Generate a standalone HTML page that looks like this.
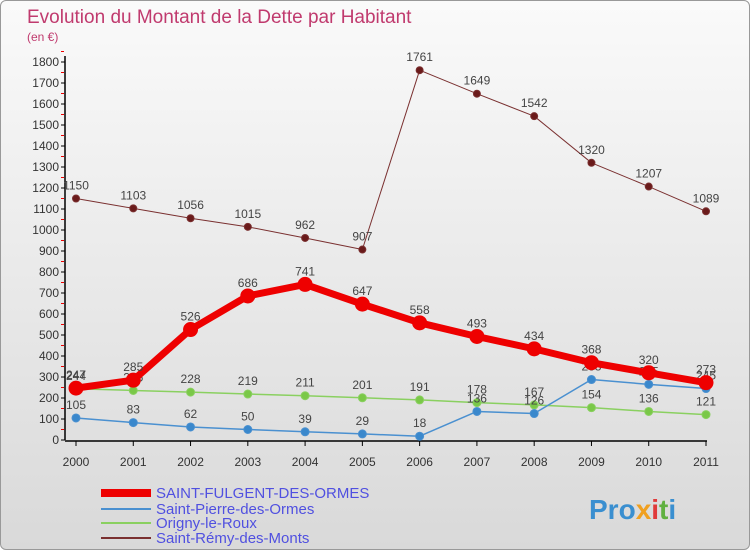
<!DOCTYPE html>
<html><head><meta charset="utf-8"><style>
body{margin:0;width:750px;height:550px;overflow:hidden;font-family:"Liberation Sans",sans-serif}
#wrap{position:absolute;left:0;top:0;width:748px;height:548px;border:1px solid #999;border-radius:6px;background:linear-gradient(#fafafa,#d9d9d9)}
</style></head><body>
<div id="wrap">
<svg id="chart" width="750" height="550" style="position:absolute;left:0;top:0">
<text x="26" y="22" font-size="19" fill="#c03a6e">Evolution du Montant de la Dette par Habitant</text>
<text x="26" y="40" font-size="12" fill="#c03a6e">(en €)</text>
<g id="axes"></g><g id="series"></g>
<text x="588" y="518" font-size="28" font-weight="bold" fill="#3a8fd0">Pro<tspan fill="#f0a020">x</tspan><tspan fill="#e03a3a">i</tspan><tspan fill="#60b040">t</tspan><tspan fill="#3a8fd0">i</tspan></text>
</svg>
</div>
<script>
const years=[2000,2001,2002,2003,2004,2005,2006,2007,2008,2009,2010,2011];
const yTicks=[0,100,200,300,400,500,600,700,800,900,1000,1100,1200,1300,1400,1500,1600,1700,1800];
const stFulgent=[247,285,526,686,741,647,558,493,434,368,320,273];
const stPierre=[105,83,62,50,39,29,18,136,126,288,265,245];
const origny=[244,236,228,219,211,201,191,178,167,154,136,121];
const stRemy=[1150,1103,1056,1015,962,907,1761,1649,1542,1320,1207,1089];
const NS="http://www.w3.org/2000/svg";
const xs=i=>75+i*(630/11);
const ys=v=>439-v*(378/1800);
function mk(t,a,p){const e=document.createElementNS(NS,t);for(const k in a)e.setAttribute(k,a[k]);p.appendChild(e);return e;}
const ax=document.getElementById('axes');
let e=mk('line',{x1:64,y1:55,x2:64,y2:439,stroke:'#000','stroke-width':1.5},ax);


e=mk('line',{x1:64,y1:440,x2:706,y2:440,stroke:'#000','stroke-width':1.5},ax);


yTicks.forEach(v=>{
 mk('line',{x1:60,y1:ys(v),x2:64,y2:ys(v),stroke:'#000'},ax);
 mk('line',{x1:60,y1:ys(v+50),x2:63,y2:ys(v+50),stroke:'#e00'},ax);
 const t=mk('text',{x:58,y:ys(v)+4,'font-size':12,fill:'#333','text-anchor':'end'},ax);t.textContent=v;
 
 
});
years.forEach((y,i)=>{
 mk('line',{x1:xs(i),y1:440,x2:xs(i),y2:445,stroke:'#000'},ax);
 const t=mk('text',{x:xs(i),y:465,'font-size':12,fill:'#333','text-anchor':'middle'},ax);t.textContent=y;
 
 
});
const sg=document.getElementById('series');
function series(data,color,dot,w,r,name,legY,legLbl,legW){
 const g=mk('g',{},sg);
 
 
 mk('polyline',{points:data.map((v,i)=>xs(i)+','+ys(v)).join(' '),fill:'none',stroke:color,'stroke-width':w,'stroke-linejoin':'round'},g);
 data.forEach((v,i)=>{
  const c=mk('circle',{cx:xs(i),cy:ys(v),r:r,fill:dot,stroke:color,'stroke-width':1},g);
  
  
  const t=mk('text',{x:xs(i),y:ys(v)-9,'font-size':12,fill:'#444','text-anchor':'middle'},g);t.textContent=v;
  
  
 });
 const l=mk('g',{},sg);
 
 
 mk('line',{x1:100,y1:legY,x2:150,y2:legY,stroke:color,'stroke-width':legW},l);
 const t=mk('text',{x:155,y:legY+5,'font-size':15,fill:'#5050e0'},l);t.textContent=legLbl;
}
series(stRemy,'#7a3030','#6a1a1a',1,3.5,'saint-remy-series',537,'Saint-Rémy-des-Monts',2);
series(origny,'#8ad060','#7ac848',1.5,4,'origny-series',522,'Origny-le-Roux',2);
series(stPierre,'#4a90d0','#3a88cc',1.5,4,'saint-pierre-series',508,'Saint-Pierre-des-Ormes',2);
series(stFulgent,'#ee0000','#ee0000',7,7,'saint-fulgent-series',492,'SAINT-FULGENT-DES-ORMES',8);
</script>
</body></html>
